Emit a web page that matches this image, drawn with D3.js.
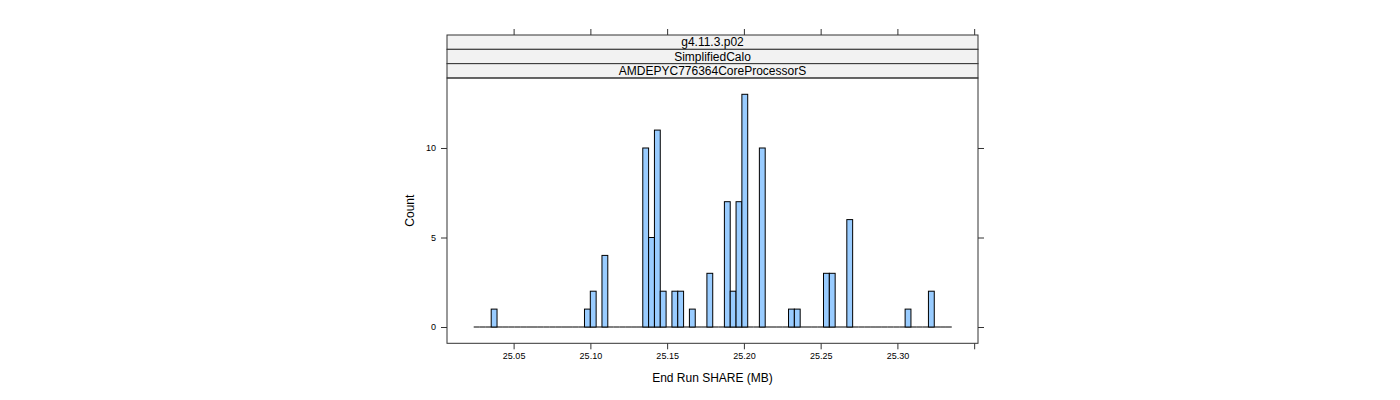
<!DOCTYPE html>
<html>
<head>
<meta charset="utf-8">
<script src="https://cdn.jsdelivr.net/npm/d3@7"></script>
<style>
  body { margin: 0; background: #fff; }
  svg { font-family: "Liberation Sans", Arial, sans-serif; }
</style>
</head>
<body>
<svg id="chart" width="1400" height="400"></svg>
<script>
// ---- data ----
const stripLabels = ["g4.11.3.p02", "SimplifiedCalo", "AMDEPYC776364CoreProcessorS"];
const binStart = 25.0240;      // first break (MB)
const binWidth = 0.0037976;    // break spacing (MB)
// counts per bin (82 bins)
const binCounts = [
  0, 0, 0, 1, 0, 0, 0, 0, 0, 0,
  0, 0, 0, 0, 0, 0, 0, 0, 0, 1,
  2, 0, 4, 0, 0, 0, 0, 0, 0, 10,
  5, 11, 2, 0, 2, 2, 0, 1, 0, 0,
  3, 0, 0, 7, 2, 7, 13, 0, 0, 10,
  0, 0, 0, 0, 1, 1, 0, 0, 0, 0,
  3, 3, 0, 0, 6, 0, 0, 0, 0, 0,
  0, 0, 0, 0, 1, 0, 0, 0, 2, 0,
  0, 0
];
const xTicks = [25.05, 25.10, 25.15, 25.20, 25.25, 25.30, 25.35];
const xTickLabels = ["25.05", "25.10", "25.15", "25.20", "25.25", "25.30", ""];
const yTicks = [0, 5, 10];
const xTitle = "End Run SHARE (MB)";
const yTitle = "Count";

// ---- layout ----
const panel = { left: 447, right: 978, top: 78, bottom: 343.3 };
const stripTop = 35, stripH = 14.33;

const svg = d3.select("#chart");
const x = d3.scaleLinear().domain([25.0066, 25.3525]).range([panel.left, panel.right]);
const y = d3.scaleLinear().domain([-0.91, 13.91]).range([panel.bottom, panel.top]);

const bins = binCounts.map((c, i) => ({
  x0: binStart + i * binWidth,
  x1: binStart + (i + 1) * binWidth,
  count: c
}));

// strips
stripLabels.forEach((lab, i) => {
  const yy = stripTop + i * stripH;
  svg.append("rect")
    .attr("x", panel.left).attr("y", yy)
    .attr("width", panel.right - panel.left).attr("height", stripH)
    .attr("fill", "#f2f2f2").attr("stroke", "#333").attr("stroke-width", 1);
  svg.append("text")
    .attr("x", (panel.left + panel.right) / 2).attr("y", yy + stripH / 2 + 4.3)
    .attr("text-anchor", "middle").attr("font-size", 12).attr("fill", "#000")
    .text(lab);
});

// panel border
svg.append("rect")
  .attr("x", panel.left).attr("y", panel.top)
  .attr("width", panel.right - panel.left).attr("height", panel.bottom - panel.top)
  .attr("fill", "none").attr("stroke", "#333").attr("stroke-width", 1);

// bars
const gBars = svg.append("g");
gBars.selectAll("line").data(bins).join("line")
  .attr("x1", d => x(d.x0)).attr("x2", d => x(d.x1))
  .attr("y1", y(0)).attr("y2", y(0))
  .attr("stroke", "#000").attr("stroke-width", 1);
gBars.selectAll("rect").data(bins.filter(d => d.count > 0)).join("rect")
  .attr("x", d => x(d.x0))
  .attr("width", d => x(d.x1) - x(d.x0))
  .attr("y", d => y(d.count))
  .attr("height", d => y(0) - y(d.count))
  .attr("fill", "#99ccff")
  .attr("stroke", "#000").attr("stroke-width", 1);

// bottom axis
const bottomAxis = d3.axisBottom(x).tickValues(xTicks)
  .tickFormat((d, i) => xTickLabels[i]).tickSize(6).tickPadding(3).tickSizeOuter(0);
const gB = svg.append("g").attr("transform", `translate(0,${panel.bottom})`).call(bottomAxis);
gB.select(".domain").remove();
gB.selectAll("line").attr("stroke", "#333");
gB.selectAll("text").attr("font-size", 9).attr("fill", "#000");

// top axis (ticks only, above strips)
const topAxis = d3.axisTop(x).tickValues(xTicks).tickFormat("").tickSize(6).tickSizeOuter(0);
const gT = svg.append("g").attr("transform", `translate(0,${stripTop})`).call(topAxis);
gT.select(".domain").remove();
gT.selectAll("line").attr("stroke", "#333");

// left axis
const leftAxis = d3.axisLeft(y).tickValues(yTicks).tickSize(6).tickPadding(5).tickSizeOuter(0);
const gL = svg.append("g").attr("transform", `translate(${panel.left},0)`).call(leftAxis);
gL.select(".domain").remove();
gL.selectAll("line").attr("stroke", "#333");
gL.selectAll("text").attr("font-size", 9).attr("fill", "#000");

// right axis (ticks only)
const rightAxis = d3.axisRight(y).tickValues(yTicks).tickFormat("").tickSize(6).tickSizeOuter(0);
const gR = svg.append("g").attr("transform", `translate(${panel.right},0)`).call(rightAxis);
gR.select(".domain").remove();
gR.selectAll("line").attr("stroke", "#333");

// titles
svg.append("text")
  .attr("x", (panel.left + panel.right) / 2).attr("y", 382)
  .attr("text-anchor", "middle").attr("font-size", 12).attr("fill", "#000")
  .text(xTitle);
svg.append("text")
  .attr("transform", `translate(414,${(panel.top + panel.bottom) / 2}) rotate(-90)`)
  .attr("text-anchor", "middle").attr("font-size", 12).attr("fill", "#000")
  .text(yTitle);
</script>
</body>
</html>
